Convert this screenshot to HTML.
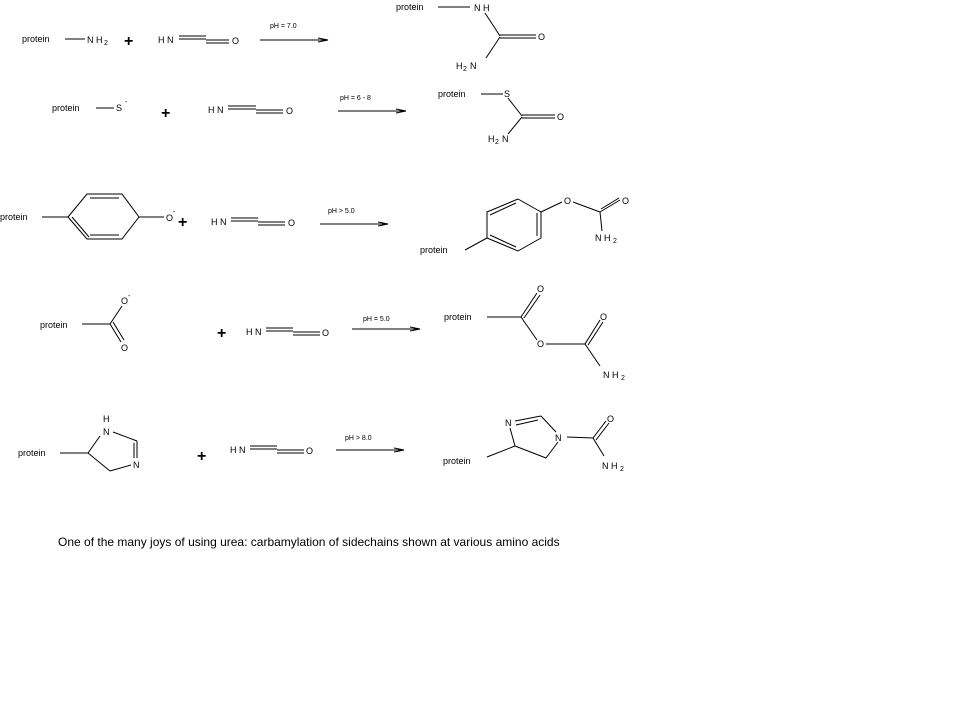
<!DOCTYPE html>
<html><head><meta charset="utf-8"><style>
html,body{margin:0;padding:0;background:#fff;}
svg{display:block;}
text{font-family:"Liberation Sans",sans-serif;font-size:9px;fill:#000;}
.s{font-size:7px;}
.p{font-size:16px;font-weight:bold;}
line,polyline{stroke:#000;stroke-width:1;fill:none;}
</style></head><body>
<svg width="960" height="720" viewBox="0 0 960 720" xmlns="http://www.w3.org/2000/svg">
<!-- Row 1 -->
<text x="22" y="42">protein</text>
<line x1="65" y1="39" x2="85" y2="39"/>
<text x="87" y="43">N H</text><text x="104" y="45" class="s">2</text>
<text x="124" y="46" class="p">+</text>
<text x="158" y="43">H N</text>
<line x1="179" y1="36" x2="206" y2="36"/><line x1="179" y1="39" x2="206" y2="39"/>
<line x1="206" y1="40" x2="229" y2="40"/><line x1="206" y1="43" x2="229" y2="43"/>
<text x="232" y="44">O</text>
<line x1="260" y1="40" x2="328" y2="40"/><polyline points="318,38 328,40 318,42"/>
<text x="270" y="28" class="s">pH = 7.0</text>
<text x="396" y="10">protein</text>
<line x1="438" y1="7" x2="470" y2="7"/>
<text x="474" y="11">N H</text>
<line x1="485" y1="13" x2="500" y2="36"/>
<line x1="500" y1="35" x2="536" y2="35"/><line x1="500" y1="38" x2="536" y2="38"/>
<text x="538" y="40">O</text>
<line x1="500" y1="37" x2="486" y2="58"/>
<text x="456" y="69">H</text><text x="463" y="71" class="s">2</text><text x="470" y="69">N</text>
<!-- Row 2 -->
<text x="52" y="111">protein</text>
<line x1="96" y1="108" x2="114" y2="108"/>
<text x="116" y="111">S</text><text x="125" y="104" class="s">-</text>
<text x="161" y="118" class="p">+</text>
<text x="208" y="113">H N</text>
<line x1="228" y1="106" x2="256" y2="106"/><line x1="228" y1="109" x2="256" y2="109"/>
<line x1="256" y1="110" x2="283" y2="110"/><line x1="256" y1="113" x2="283" y2="113"/>
<text x="286" y="114">O</text>
<line x1="338" y1="111" x2="406" y2="111"/><polyline points="396,109 406,111 396,113"/>
<text x="340" y="100" class="s">pH = 6 - 8</text>
<text x="438" y="97">protein</text>
<line x1="481" y1="94" x2="503" y2="94"/>
<text x="504" y="97">S</text>
<line x1="508" y1="98" x2="522" y2="116"/>
<line x1="522" y1="115" x2="555" y2="115"/><line x1="522" y1="118" x2="555" y2="118"/>
<text x="557" y="120">O</text>
<line x1="522" y1="117" x2="508" y2="134"/>
<text x="488" y="142">H</text><text x="495" y="144" class="s">2</text><text x="502" y="142">N</text>
<!-- Row 3 -->
<text x="0" y="220">protein</text>
<line x1="42" y1="217" x2="68" y2="217"/>
<polyline points="68,217 87,194 122,194 139,217 122,239 87,239 68,217"/>
<line x1="90" y1="198" x2="119" y2="198"/><line x1="90" y1="235" x2="119" y2="235"/><line x1="72" y1="217" x2="89" y2="237"/>
<line x1="139" y1="217" x2="164" y2="217"/>
<text x="166" y="221">O</text><text x="173" y="214" class="s">-</text>
<text x="178" y="227" class="p">+</text>
<text x="211" y="225">H N</text>
<line x1="231" y1="218" x2="258" y2="218"/><line x1="231" y1="221" x2="258" y2="221"/>
<line x1="258" y1="222" x2="285" y2="222"/><line x1="258" y1="225" x2="285" y2="225"/>
<text x="288" y="226">O</text>
<line x1="320" y1="224" x2="388" y2="224"/><polyline points="378,222 388,224 378,226"/>
<text x="328" y="213" class="s">pH &gt; 5.0</text>
<polyline points="518,199 541,212 541,238 518,251 487,238 487,212 518,199"/>
<line x1="490" y1="215" x2="516" y2="203"/><line x1="537" y1="213" x2="537" y2="236"/><line x1="490" y1="235" x2="516" y2="247"/>
<line x1="487" y1="238" x2="465" y2="250"/>
<text x="420" y="253">protein</text>
<line x1="541" y1="212" x2="562" y2="202"/>
<text x="564" y="204">O</text>
<line x1="573" y1="202" x2="600" y2="212"/>
<line x1="600" y1="212" x2="620" y2="200"/><line x1="601" y1="209" x2="619" y2="198"/>
<text x="622" y="204">O</text>
<line x1="600" y1="212" x2="602" y2="231"/>
<text x="595" y="241">N H</text><text x="613" y="243" class="s">2</text>
<!-- Row 4 -->
<text x="40" y="328">protein</text>
<line x1="82" y1="324" x2="110" y2="324"/>
<line x1="110" y1="324" x2="122" y2="306"/>
<text x="121" y="304">O</text><text x="128" y="298" class="s">-</text>
<line x1="110" y1="324" x2="121" y2="342"/><line x1="113" y1="322" x2="124" y2="340"/>
<text x="121" y="351">O</text>
<text x="217" y="338" class="p">+</text>
<text x="246" y="335">H N</text>
<line x1="266" y1="328" x2="293" y2="328"/><line x1="266" y1="331" x2="293" y2="331"/>
<line x1="293" y1="332" x2="320" y2="332"/><line x1="293" y1="335" x2="320" y2="335"/>
<text x="322" y="336">O</text>
<line x1="352" y1="329" x2="420" y2="329"/><polyline points="410,327 420,329 410,331"/>
<text x="363" y="321" class="s">pH = 5.0</text>
<text x="444" y="320">protein</text>
<line x1="487" y1="317" x2="521" y2="317"/>
<line x1="521" y1="317" x2="537" y2="293"/><line x1="524" y1="318" x2="540" y2="295"/>
<text x="537" y="292">O</text>
<line x1="521" y1="317" x2="537" y2="340"/>
<text x="537" y="347">O</text>
<line x1="546" y1="344" x2="585" y2="344"/>
<line x1="585" y1="344" x2="600" y2="320"/><line x1="588" y1="345" x2="603" y2="322"/>
<text x="600" y="320">O</text>
<line x1="585" y1="344" x2="600" y2="366"/>
<text x="603" y="378">N H</text><text x="621" y="380" class="s">2</text>
<!-- Row 5 -->
<text x="18" y="456">protein</text>
<line x1="60" y1="453" x2="88" y2="453"/>
<text x="103" y="422">H</text>
<text x="103" y="435">N</text>
<polyline points="88,453 100,436"/>
<line x1="113" y1="432" x2="137" y2="441"/>
<line x1="137" y1="441" x2="137" y2="458"/><line x1="134" y1="443" x2="134" y2="458"/>
<text x="133" y="468">N</text>
<line x1="131" y1="465" x2="110" y2="471"/>
<line x1="110" y1="471" x2="88" y2="453"/>
<text x="197" y="461" class="p">+</text>
<text x="230" y="453">H N</text>
<line x1="250" y1="446" x2="277" y2="446"/><line x1="250" y1="449" x2="277" y2="449"/>
<line x1="277" y1="450" x2="304" y2="450"/><line x1="277" y1="453" x2="304" y2="453"/>
<text x="306" y="454">O</text>
<line x1="336" y1="450" x2="404" y2="450"/><polyline points="394,448 404,450 394,452"/>
<text x="345" y="440" class="s">pH &gt; 8.0</text>
<text x="505" y="426">N</text>
<line x1="515" y1="421" x2="541" y2="416"/><line x1="516" y1="425" x2="538" y2="420"/>
<line x1="541" y1="416" x2="556" y2="432"/>
<text x="555" y="441">N</text>
<line x1="558" y1="442" x2="546" y2="458"/>
<line x1="546" y1="458" x2="515" y2="446"/>
<line x1="515" y1="446" x2="510" y2="428"/>
<line x1="515" y1="446" x2="487" y2="457"/>
<text x="443" y="464">protein</text>
<line x1="567" y1="437" x2="593" y2="438"/>
<line x1="593" y1="438" x2="606" y2="421"/><line x1="596" y1="440" x2="609" y2="423"/>
<text x="607" y="422">O</text>
<line x1="593" y1="438" x2="604" y2="456"/>
<text x="602" y="469">N H</text><text x="620" y="471" class="s">2</text>
<!-- Caption -->
<text x="58" y="546" style="font-size:12px">One of the many joys of using urea: carbamylation of sidechains shown at various amino acids</text>
</svg>
</body></html>
